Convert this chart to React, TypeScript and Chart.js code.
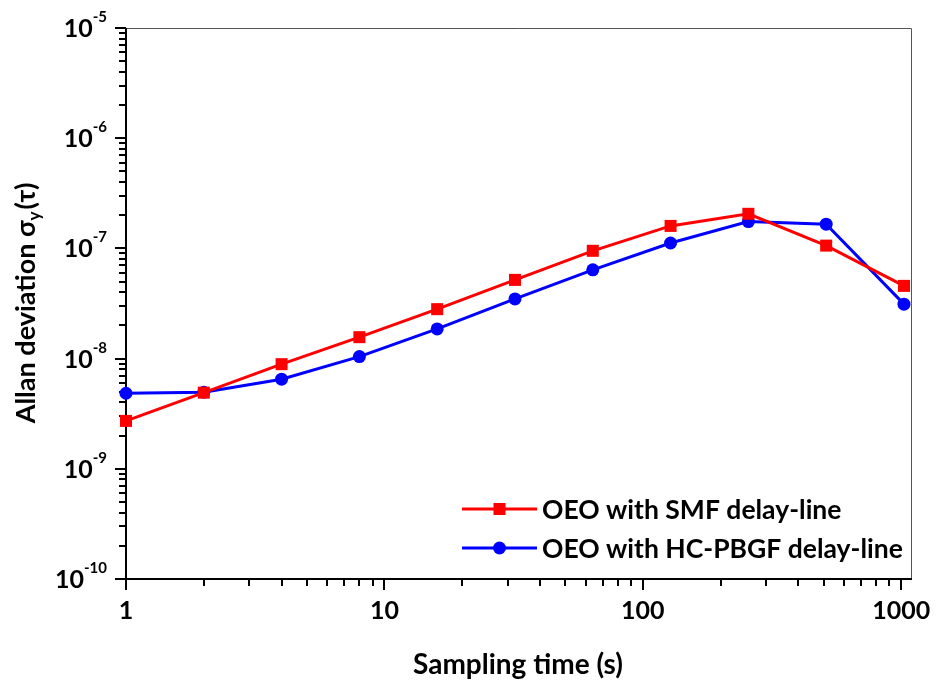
import React, { useEffect, useRef } from 'react';
import { Chart, registerables } from 'chart.js';

Chart.register(...registerables);

// ---- data ----
const samplingTimes = [1, 2, 4, 8, 16, 32, 64, 128, 256, 512, 1024];
const smfValues = [2.72e-9, 4.91e-9, 8.9e-9, 1.565e-8, 2.81e-8, 5.18e-8, 9.51e-8, 1.6e-7, 2.06e-7, 1.06e-7, 4.57e-8];
const hcValues = [4.85e-9, 4.95e-9, 6.5e-9, 1.043e-8, 1.86e-8, 3.48e-8, 6.39e-8, 1.12e-7, 1.75e-7, 1.66e-7, 3.12e-8];
const seriesLabels = ['OEO with SMF delay-line', 'OEO with HC-PBGF delay-line'];
const seriesColors = ['#ff0000', '#0000ff'];
const seriesMarkers = ['rect', 'circle'];
const xTickValues = [1, 10, 100, 1000];
const xTickLabels = ['1', '10', '100', '1000'];
const yTickExponents = [-5, -6, -7, -8, -9, -10];
const xMin = 1;
const xMax = 1100;
const yMin = 1e-10;
const yMax = 1e-5;
const xTitle = 'Sampling time (s)';
const yTitleMain = 'Allan deviation \u03c3';
const yTitleSub = 'y';
const yTitleEnd = '(\u03c4)';

const FONT = 'Lato, "Open Sans", "DejaVu Sans", sans-serif';

const axesPlugin = {
  id: 'customAxes',
  beforeDatasetsDraw(chart: any) {
    const { ctx, chartArea: a, scales } = chart;
    const xs = scales.x;
    const ys = scales.y;
    ctx.save();
    // thin frame top/right
    ctx.strokeStyle = '#555';
    ctx.lineWidth = 1;
    ctx.beginPath();
    ctx.moveTo(a.left, a.top + 0.5);
    ctx.lineTo(a.right - 0.5, a.top + 0.5);
    ctx.lineTo(a.right - 0.5, a.bottom);
    ctx.stroke();
    // ticks
    ctx.strokeStyle = '#000';
    ctx.lineWidth = 2;
    ctx.beginPath();
    for (let d = -10; d <= -5; d++) {
      const v = Math.pow(10, d);
      const y = Math.round(ys.getPixelForValue(v));
      ctx.moveTo(a.left - 11, y);
      ctx.lineTo(a.left, y);
      if (d < -5) {
        for (let m = 2; m <= 9; m++) {
          const ym = Math.round(ys.getPixelForValue(m * v));
          ctx.moveTo(a.left - 7, ym);
          ctx.lineTo(a.left, ym);
        }
      }
    }
    for (let d = 0; d <= 3; d++) {
      const v = Math.pow(10, d);
      const x = Math.round(xs.getPixelForValue(v));
      ctx.moveTo(x, a.bottom);
      ctx.lineTo(x, a.bottom + 11);
      for (let m = 2; m <= 9; m++) {
        if (m * v > xMax) break;
        const xm = Math.round(xs.getPixelForValue(m * v));
        ctx.moveTo(xm, a.bottom);
        ctx.lineTo(xm, a.bottom + 7);
      }
    }
    ctx.stroke();
    // main axes
    ctx.beginPath();
    ctx.moveTo(a.left, a.top);
    ctx.lineTo(a.left, a.bottom);
    ctx.lineTo(a.right, a.bottom);
    ctx.stroke();
    ctx.restore();
  },
  afterDraw(chart: any) {
    const { ctx, chartArea: a, scales } = chart;
    const xs = scales.x;
    const ys = scales.y;
    ctx.save();
    ctx.fillStyle = '#000';
    ctx.textBaseline = 'alphabetic';
    // y tick labels 10^n
    const baseFont = `bold 25px ${FONT}`;
    const supFont = `bold 15px ${FONT}`;
    yTickExponents.forEach((e) => {
      const y = ys.getPixelForValue(Math.pow(10, e));
      const sup = String(e);
      ctx.font = supFont;
      const supW = ctx.measureText(sup).width;
      ctx.font = baseFont;
      const baseW = ctx.measureText('10').width;
      const right = a.left - 19;
      ctx.textAlign = 'left';
      ctx.fillText('10', right - supW - baseW, y + 9);
      ctx.font = supFont;
      ctx.fillText(sup, right - supW, y - 6);
    });
    // x tick labels
    ctx.font = baseFont;
    ctx.textAlign = 'center';
    xTickValues.forEach((v, i) => {
      const x = xs.getPixelForValue(v);
      ctx.fillText(xTickLabels[i], x, a.bottom + 40);
    });
    // x title
    ctx.font = `bold 28px ${FONT}`;
    ctx.textAlign = 'center';
    ctx.fillText(xTitle, 518, 674);
    // y title (rotated)
    ctx.save();
    ctx.translate(35, 303);
    ctx.rotate(-Math.PI / 2);
    const tFont = `bold 27px ${FONT}`;
    const sFont = `bold 17px ${FONT}`;
    ctx.font = tFont;
    const w1 = ctx.measureText(yTitleMain).width;
    const w3 = ctx.measureText(yTitleEnd).width;
    ctx.font = sFont;
    const w2 = ctx.measureText(yTitleSub).width;
    const total = w1 + w2 + 2 + w3;
    let x0 = -total / 2;
    ctx.textAlign = 'left';
    ctx.font = tFont;
    ctx.fillText(yTitleMain, x0, 0);
    x0 += w1;
    ctx.font = sFont;
    ctx.fillText(yTitleSub, x0, 5);
    x0 += w2 + 2;
    ctx.font = tFont;
    ctx.fillText(yTitleEnd, x0, 0);
    ctx.restore();
    // legend
    const rows = [509, 548];
    const lx0 = 462;
    const lx1 = 537;
    seriesLabels.forEach((label, i) => {
      const y = rows[i];
      ctx.strokeStyle = seriesColors[i];
      ctx.fillStyle = seriesColors[i];
      ctx.lineWidth = 3;
      ctx.beginPath();
      ctx.moveTo(lx0, y);
      ctx.lineTo(lx1, y);
      ctx.stroke();
      const cx = (lx0 + lx1) / 2;
      if (seriesMarkers[i] === 'rect') {
        ctx.fillRect(cx - 6, y - 6, 12, 12);
      } else {
        ctx.beginPath();
        ctx.arc(cx, y, 6.5, 0, Math.PI * 2);
        ctx.fill();
      }
      ctx.fillStyle = '#000';
      ctx.font = `bold 26.5px ${FONT}`;
      ctx.textAlign = 'left';
      ctx.textBaseline = 'middle';
      ctx.fillText(label, 542, y + 1);
      ctx.textBaseline = 'alphabetic';
    });
    ctx.restore();
  },
};

export default function App() {
  const canvasRef = useRef<HTMLCanvasElement | null>(null);

  useEffect(() => {
    const canvas = canvasRef.current;
    if (!canvas) return;
    const chart = new Chart(canvas, {
      type: 'line',
      data: {
        datasets: [
          {
            label: seriesLabels[0],
            data: samplingTimes.map((t, i) => ({ x: t, y: smfValues[i] })),
            borderColor: seriesColors[0],
            backgroundColor: seriesColors[0],
            borderWidth: 3,
            pointStyle: 'rect',
            pointRadius: 8.5,
            pointBorderWidth: 0,
            clip: false as any,
          },
          {
            label: seriesLabels[1],
            data: samplingTimes.map((t, i) => ({ x: t, y: hcValues[i] })),
            borderColor: seriesColors[1],
            backgroundColor: seriesColors[1],
            borderWidth: 3,
            pointStyle: 'circle',
            pointRadius: 6.5,
            pointBorderWidth: 0,
            clip: false as any,
          },
        ],
      },
      options: {
        responsive: false,
        animation: false,
        devicePixelRatio: 1,
        layout: { padding: { left: 126, top: 28, right: 24, bottom: 101 } },
        plugins: { legend: { display: false }, tooltip: { enabled: false } },
        scales: {
          x: { type: 'logarithmic', min: xMin, max: xMax, display: false },
          y: { type: 'logarithmic', min: yMin, max: yMax, display: false },
        },
      },
      plugins: [axesPlugin],
    });
    return () => chart.destroy();
  }, []);

  return (
    <div style={{ position: 'fixed', left: 0, top: 0, width: 936, height: 680, background: '#fff' }}>
      <canvas ref={canvasRef} width={936} height={680} />
    </div>
  );
}
